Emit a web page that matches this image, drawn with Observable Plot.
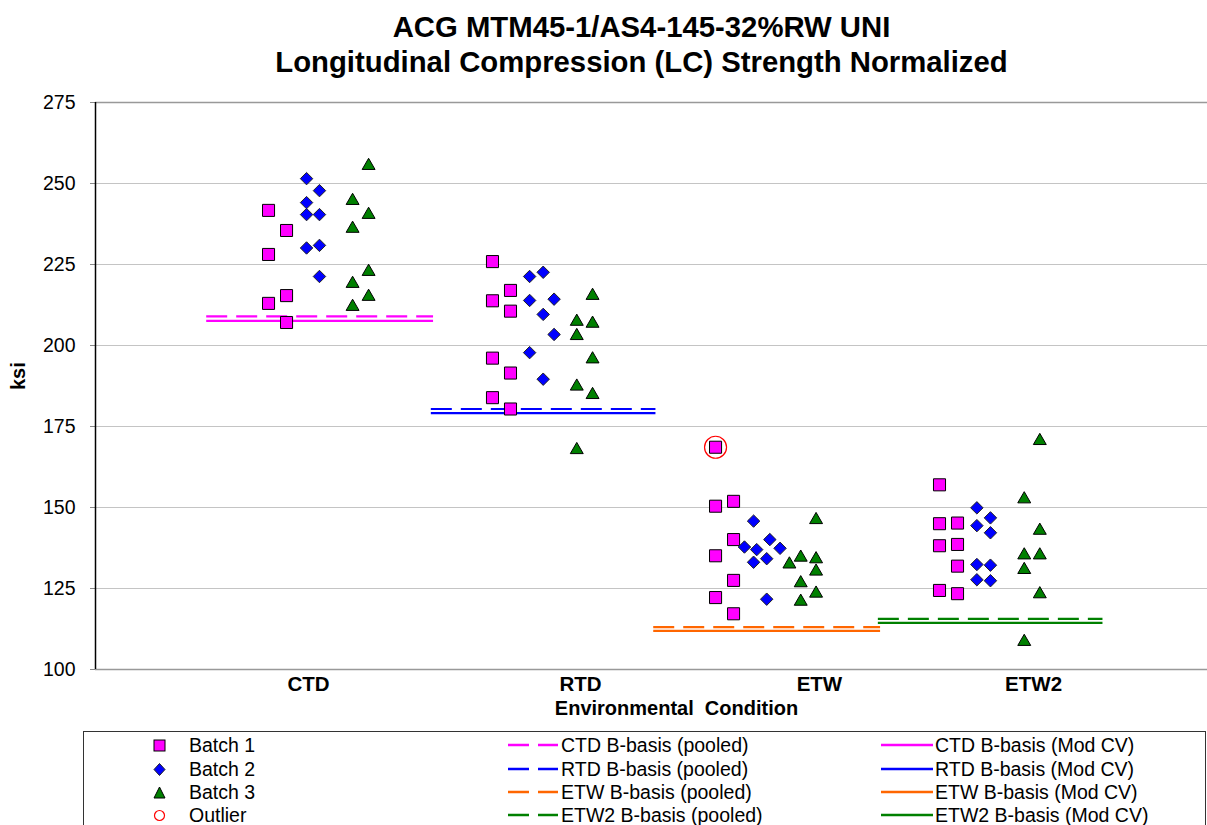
<!DOCTYPE html>
<html><head><meta charset="utf-8">
<script src="https://cdn.jsdelivr.net/npm/d3@7"></script>
<script src="https://cdn.jsdelivr.net/npm/@observablehq/plot@0.6"></script>
<style>
body{margin:0;background:#fff;font-family:"Liberation Sans",Arial,sans-serif;}
#wrap{position:relative;width:1207px;height:825px;overflow:hidden;background:#fff;}
#title{position:absolute;top:9px;left:76px;width:1131px;text-align:center;font-weight:bold;font-size:29.3px;line-height:35px;color:#000;}
#chart{position:absolute;top:90px;left:0;}
#legendBox{position:absolute;left:83px;top:731px;width:1123px;height:120px;border:1.5px solid #333;box-sizing:border-box;}
.lt{position:absolute;font-size:19.5px;line-height:22px;white-space:nowrap;color:#000;}
.ls{position:absolute;overflow:visible;}
</style>
</head><body>
<div id="wrap">
  <div id="title">ACG MTM45-1/AS4-145-32%RW UNI<br>Longitudinal Compression (LC) Strength Normalized</div>
  <div id="chart"></div>
  <div id="legendBox"></div>
</div>
<script>
// ---- data ----
const conditions = ["CTD", "RTD", "ETW", "ETW2"];
const conditionLabelX = [1.158, 2.381, 3.455, 4.418];
const yTicks = [100, 125, 150, 175, 200, 225, 250, 275];

// [x position, ksi]
const batch1 = [
  [0.978,241.7],[1.059,235.5],[0.978,228.1],[1.059,215.4],[0.978,213.0],[1.059,207.1],
  [1.985,225.9],[2.066,217.0],[1.985,213.8],[2.066,210.6],[1.985,196.1],[2.066,191.5],[1.985,183.9],[2.066,180.4],
  [2.988,168.6],[3.069,151.9],[2.988,150.4],[3.069,140.1],[2.988,135.1],[3.069,127.5],[2.988,122.2],[3.069,117.2],
  [3.995,157.0],[3.995,145.0],[4.076,145.2],[3.995,138.2],[4.076,138.6],[4.076,131.9],[3.995,124.4],[4.076,123.4]
];
const batch2 = [
  [1.149,251.5],[1.207,247.8],[1.149,244.1],[1.149,240.4],[1.207,240.4],[1.149,230.1],[1.207,230.9],[1.207,221.3],
  [2.213,222.6],[2.152,221.3],[2.152,213.9],[2.262,214.3],[2.213,209.6],[2.262,203.4],[2.152,197.8],[2.213,189.6],
  [3.159,145.8],[3.118,137.8],[3.173,137.0],[3.232,140.1],[3.278,137.4],[3.159,133.1],[3.218,134.2],[3.218,121.7],
  [4.163,149.9],[4.224,146.8],[4.163,144.4],[4.224,142.2],[4.163,132.4],[4.224,132.2],[4.163,127.7],[4.224,127.4]
];
const batch3 = [
  [1.428,256.1],[1.356,245.3],[1.428,241.0],[1.356,236.7],[1.428,223.4],[1.356,219.7],[1.428,215.7],[1.356,212.6],
  [2.435,216.0],[2.364,208.0],[2.435,207.4],[2.364,203.6],[2.435,196.4],[2.364,188.0],[2.435,185.4],[2.364,168.4],
  [3.440,146.8],[3.371,135.2],[3.320,133.1],[3.440,134.7],[3.440,130.9],[3.371,127.3],[3.440,124.1],[3.371,121.6],
  [4.446,171.2],[4.376,153.2],[4.446,143.5],[4.376,135.9],[4.446,135.9],[4.376,131.4],[4.446,123.9],[4.376,109.2]
];
const outliers = [[2.988,168.6]];

const basisPooled = [209.0, 180.4, 113.1, 115.6];
const basisModCV  = [207.6, 179.1, 111.9, 114.4];
const basisFrom   = [0.70, 1.71, 2.71, 3.72];
const basisTo     = [1.72, 2.72, 3.73, 4.73];

// ---- styles ----
const condColors = ["#FF00FF", "#0000FF", "#FF6600", "#008000"];
const FONT = '"Liberation Sans", Arial, sans-serif';

const idx = conditions.map((d, i) => i);

const chart = Plot.plot({
  width: 1207,
  height: 640,
  marginLeft: 95,
  marginRight: 0,
  marginTop: 12,
  marginBottom: 61,
  style: {fontFamily: FONT, background: "#fff", overflow: "visible"},
  x: {domain: [0.2, 5.2], axis: null},
  y: {domain: [100, 275]},
  marks: [
    Plot.gridY(yTicks.filter(t => t > 100 && t < 275), {stroke: "#c4c4c4", strokeOpacity: 1, strokeWidth: 1.2}),
    Plot.ruleY([275], {stroke: "#999", strokeWidth: 1.6}),
    Plot.ruleY([100], {stroke: "#999", strokeWidth: 1.6}),
    Plot.axisY({ticks: yTicks, tickSize: 5, tickPadding: 15, fontSize: 19.5, label: null, stroke: "#888", fill: "#000"}),
    Plot.ruleX([0.2], {y1: 100, y2: 275, stroke: "#000", strokeWidth: 1.5}),
    // B-basis lines
    Plot.ruleY(idx, {y: i => basisModCV[i], x1: i => basisFrom[i], x2: i => basisTo[i], stroke: i => condColors[i], strokeWidth: 2.2}),
    Plot.ruleY(idx, {y: i => basisPooled[i], x1: i => basisFrom[i], x2: i => basisTo[i], stroke: i => condColors[i], strokeWidth: 2.2, strokeDasharray: "21,9"}),
    // batches
    Plot.dot(batch1, {x: d => d[0], y: d => d[1], symbol: "square", r: 6.8, fill: "#FF00FF", stroke: "#000", strokeWidth: 1}),
    Plot.dot(batch2, {x: d => d[0], y: d => d[1], symbol: "diamond2", r: 5.6, fill: "#0000FF", stroke: "#222", strokeWidth: 1}),
    Plot.dot(batch3, {x: d => d[0], y: d => d[1], symbol: "triangle", r: 4.8, dy: 2, fill: "#008000", stroke: "#000", strokeWidth: 1}),
    Plot.dot(outliers, {x: d => d[0], y: d => d[1], symbol: "circle", r: 11, fill: "none", stroke: "#FF0000", strokeWidth: 1.2}),
    // category labels
    Plot.text(idx, {x: i => conditionLabelX[i], text: i => conditions[i], frameAnchor: "bottom", dy: 21, fontSize: 20.5, fontWeight: "bold", fill: "#000"}),
    Plot.text(["Environmental\u00a0 Condition"], {frameAnchor: "bottom", dx: 25, dy: 45, fontSize: 20, fontWeight: "bold", fill: "#000"}),
    Plot.text(["ksi"], {frameAnchor: "left", dx: -77, dy: 4, rotate: -90, fontSize: 20, fontWeight: "bold", fill: "#000"})
  ]
});
document.getElementById("chart").appendChild(chart);

// ---- legend ----
const wrap = document.getElementById("wrap");
const NS = "http://www.w3.org/2000/svg";
const rowsY = [745, 769, 792, 815];
function addText(x, cy, txt) {
  const d = document.createElement("div");
  d.className = "lt";
  d.style.left = x + "px";
  d.style.top = (cy - 11) + "px";
  d.textContent = txt;
  wrap.appendChild(d);
}
function addSvg(x, cy, w, h, inner) {
  const s = document.createElementNS(NS, "svg");
  s.setAttribute("class", "ls");
  s.setAttribute("width", w);
  s.setAttribute("height", h);
  s.style.left = x + "px";
  s.style.top = (cy - h / 2) + "px";
  s.innerHTML = inner;
  wrap.appendChild(s);
}
const batchLegend = [
  {label: "Batch 1", shape: '<rect x="1" y="1" width="11" height="11" fill="#FF00FF" stroke="#000" stroke-width="1"/>'},
  {label: "Batch 2", shape: '<path d="M6.5,0.5L12,6.5L6.5,12.5L1,6.5Z" fill="#0000FF" stroke="#222" stroke-width="1"/>'},
  {label: "Batch 3", shape: '<path d="M6.5,1L12,12H1Z" fill="#008000" stroke="#000" stroke-width="1"/>'},
  {label: "Outlier", shape: '<circle cx="6.5" cy="6.5" r="5" fill="none" stroke="#FF0000" stroke-width="1.2"/>'}
];
batchLegend.forEach((b, i) => {
  addSvg(153, rowsY[i], 13, 13, b.shape);
  addText(189, rowsY[i], b.label);
});
conditions.forEach((c, i) => {
  addSvg(508, rowsY[i], 52, 6, `<line x1="0" y1="3" x2="50" y2="3" stroke="${condColors[i]}" stroke-width="2.5" stroke-dasharray="21,9"/>`);
  addText(561, rowsY[i], `${c} B-basis (pooled)`);
  addSvg(881, rowsY[i], 52, 6, `<line x1="0" y1="3" x2="52" y2="3" stroke="${condColors[i]}" stroke-width="2.5"/>`);
  addText(935, rowsY[i], `${c} B-basis (Mod CV)`);
});
</script>
</body></html>
